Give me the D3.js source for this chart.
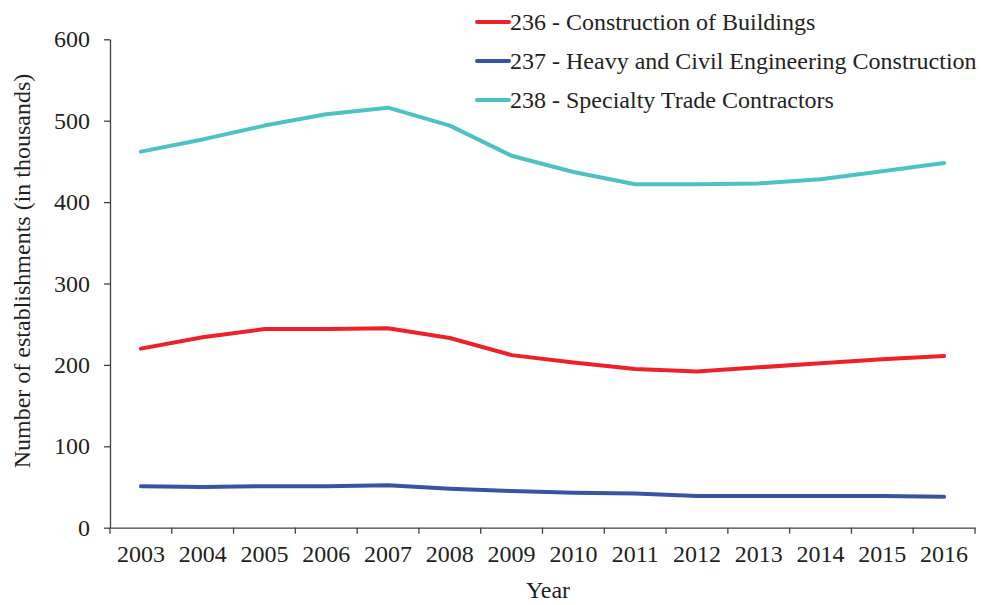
<!DOCTYPE html>
<html><head><meta charset="utf-8">
<script src="https://cdn.jsdelivr.net/npm/d3@7"></script>
<style>body{margin:0;background:#fff}svg{display:block}</style>
</head><body>
<svg id="c" width="982" height="605"></svg>
<script>
const years = ["2003","2004","2005","2006","2007","2008","2009","2010","2011","2012","2013","2014","2015","2016"];
const buildings = [220, 234, 244, 244, 245, 233, 212, 203, 195, 192, 197, 202, 207, 211];
const heavyCivil = [51, 50, 51, 51, 52, 48, 45, 43, 42, 39, 39, 39, 39, 38];
const specialty = [462, 477, 494, 508, 516, 494, 457, 437, 422, 422, 423, 428, 438, 448];
const yTicks = [0, 100, 200, 300, 400, 500, 600];
const seriesNames = ["236 - Construction of Buildings", "237 - Heavy and Civil Engineering Construction", "238 - Specialty Trade Contractors"];
const seriesColors = ["#ed2228", "#3853a4", "#4cc2c4"];

(function () {
const svg = d3.select("#c");
const font = "'Liberation Serif','Times New Roman',serif";
const fs = 24;
const mLeft = 110, mRight = 975, mTop = 39.3, mBottom = 527.7;
const x = d3.scaleBand().domain(years).range([mLeft, mRight]);
const y = d3.scaleLinear().domain([0, 600]).range([mBottom, mTop]);
const axisColor = "#404040";
const textColor = "#231f20";

const xAxis = svg.append("g").attr("transform", `translate(0,${mBottom})`)
  .call(d3.axisBottom(x).tickSize(0).tickPadding(17));
xAxis.select(".domain").attr("stroke", axisColor).attr("stroke-width", 1.3);
xAxis.selectAll("text").attr("font-family", font).attr("font-size", fs).attr("fill", textColor);
const bounds = years.map(d => x(d)).concat([mRight]);
svg.append("g").selectAll("line").data(bounds).join("line")
  .attr("x1", d => d).attr("x2", d => d).attr("y1", mBottom).attr("y2", mBottom + 6)
  .attr("stroke", axisColor).attr("stroke-width", 1.3);

const yAxis = svg.append("g").attr("transform", `translate(${mLeft},0)`)
  .call(d3.axisLeft(y).tickValues(yTicks).tickSize(6).tickPadding(14).tickSizeOuter(0));
yAxis.select(".domain").attr("stroke", axisColor).attr("stroke-width", 1.3);
yAxis.selectAll(".tick line").attr("stroke", axisColor).attr("stroke-width", 1.3);
yAxis.selectAll("text").attr("font-family", font).attr("font-size", fs).attr("fill", textColor);

svg.append("text").attr("x", 548).attr("y", 598).attr("text-anchor", "middle")
  .attr("font-family", font).attr("font-size", fs).attr("fill", textColor).text("Year");
svg.append("text").attr("transform", "translate(30,271) rotate(-90)").attr("text-anchor", "middle")
  .attr("font-family", font).attr("font-size", fs).attr("fill", textColor)
  .text("Number of establishments (in thousands)");

const data = [buildings, heavyCivil, specialty];
const line = d3.line().x((d, i) => x(years[i]) + x.bandwidth() / 2).y(d => y(d));
svg.append("g").selectAll("path").data(data).join("path")
  .attr("d", line).attr("fill", "none")
  .attr("stroke", (d, i) => seriesColors[i]).attr("stroke-width", 4)
  .attr("stroke-linejoin", "round").attr("stroke-linecap", "round");

const legY = [22, 61, 100];
const leg = svg.append("g").selectAll("g").data(seriesNames).join("g")
  .attr("transform", (d, i) => `translate(477,${legY[i]})`);
leg.append("line").attr("x1", 0).attr("x2", 32).attr("y1", 0).attr("y2", 0)
  .attr("stroke", (d, i) => seriesColors[i]).attr("stroke-width", 4).attr("stroke-linecap", "round");
leg.append("text").attr("x", 33).attr("y", 0).attr("dy", "0.35em")
  .attr("font-family", font).attr("font-size", fs).attr("fill", textColor).text(d => d);
})();
</script>
</body></html>
